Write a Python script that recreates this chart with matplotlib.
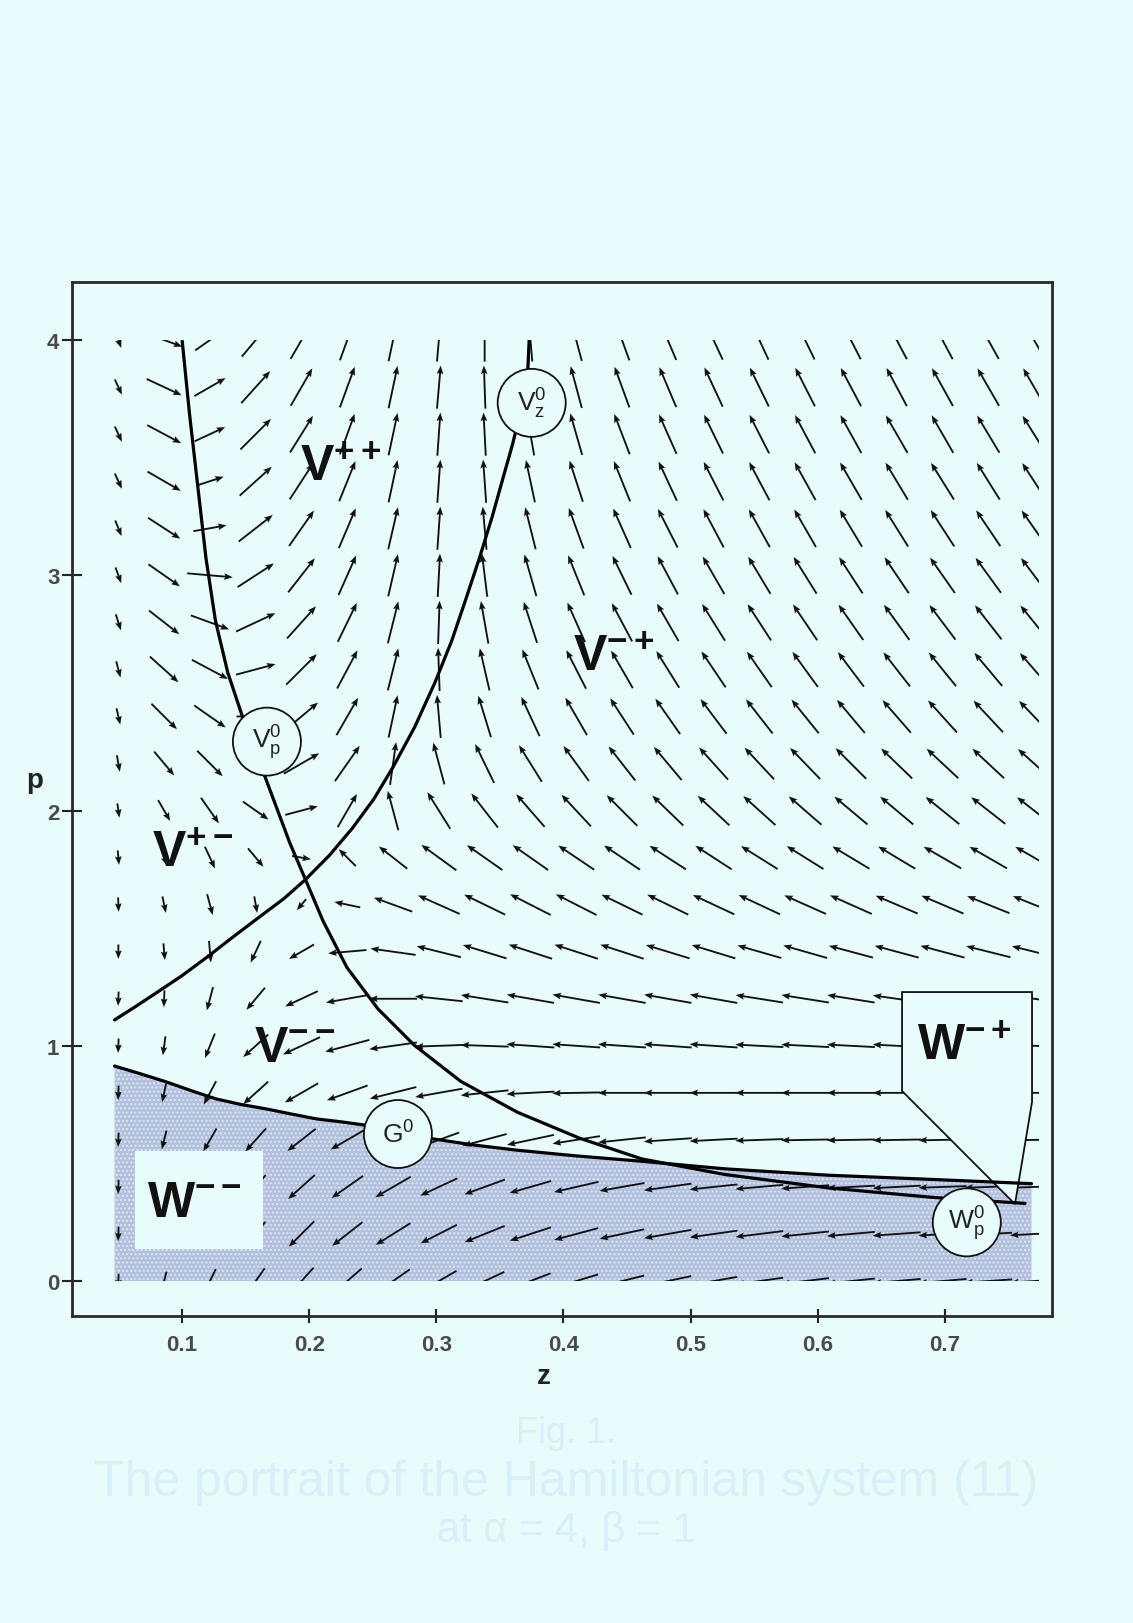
import numpy as np
import matplotlib
matplotlib.use('Agg')
import matplotlib.pyplot as plt
from matplotlib.patches import Rectangle, Polygon, Ellipse

plt.rcParams['font.family'] = ['Liberation Sans', 'DejaVu Sans']
plt.rcParams['mathtext.fontset'] = 'custom'
plt.rcParams['mathtext.rm'] = 'Liberation Sans'
plt.rcParams['mathtext.bf'] = 'Liberation Sans:bold'
plt.rcParams['mathtext.it'] = 'Liberation Sans:italic'
plt.rcParams['hatch.linewidth'] = 1.0

BG = '#e8fcfc'

# ---------------- data ----------------
z_cols = [0.050, 0.086, 0.122, 0.158, 0.194, 0.230, 0.266, 0.302, 0.338, 0.374, 0.410,
          0.446, 0.482, 0.518, 0.554, 0.590, 0.626, 0.662, 0.698, 0.734, 0.770]
p_rows = [4.0, 3.8, 3.6, 3.4, 3.2, 3.0, 2.8, 2.6, 2.4, 2.2, 2.0,
          1.8, 1.6, 1.4, 1.2, 1.0, 0.8, 0.6, 0.4, 0.2, 0.0]

# arrow directions (degrees) read from the field, one list per row (top to bottom)
angle_rows = [
    [290, 340, 35, 50, 60, 70, 78, 85, 90, 95, 105, 110, 113, 115, 115, 116, 117, 118, 118, 119, 120],
    [295, 335, 30, 48, 60, 70, 78, 85, 92, 98, 105, 110, 113, 115, 116, 117, 118, 118, 119, 120, 120],
    [295, 332, 25, 45, 58, 70, 78, 86, 93, 100, 106, 111, 114, 116, 117, 118, 119, 120, 120, 121, 122],
    [295, 330, 18, 42, 57, 68, 78, 86, 94, 102, 108, 112, 115, 117, 118, 119, 120, 121, 122, 122, 123],
    [292, 327, 10, 38, 55, 67, 77, 86, 95, 104, 110, 114, 117, 118, 119, 120, 121, 122, 123, 124, 125],
    [290, 325, 355, 33, 52, 66, 77, 87, 97, 106, 112, 116, 118, 120, 121, 122, 123, 124, 125, 126, 127],
    [288, 322, 340, 25, 48, 64, 76, 88, 100, 108, 114, 118, 120, 122, 123, 124, 125, 126, 127, 128, 129],
    [285, 318, 332, 15, 45, 62, 76, 92, 103, 112, 117, 120, 122, 124, 125, 126, 127, 128, 129, 130, 131],
    [283, 315, 325, 0, 40, 60, 78, 95, 107, 115, 120, 123, 125, 127, 128, 129, 130, 131, 132, 133, 134],
    [280, 310, 315, 340, 30, 55, 82, 105, 116, 122, 126, 128, 130, 132, 133, 134, 135, 136, 137, 137, 138],
    [278, 300, 305, 325, 15, 60, 105, 122, 128, 131, 133, 135, 136, 137, 138, 139, 140, 140, 141, 142, 142],
    [275, 290, 295, 310, 350, 135, 142, 144, 145, 145, 146, 146, 147, 147, 148, 148, 149, 149, 150, 150, 150],
    [272, 282, 285, 280, 230, 168, 160, 156, 154, 153, 153, 154, 154, 155, 155, 156, 156, 157, 157, 158, 158],
    [270, 275, 275, 245, 210, 185, 172, 166, 163, 162, 162, 162, 163, 163, 164, 164, 165, 165, 165, 166, 166],
    [268, 268, 255, 230, 205, 190, 180, 174, 171, 170, 170, 170, 170, 170, 171, 171, 171, 172, 172, 172, 172],
    [268, 262, 248, 222, 205, 195, 188, 182, 178, 176, 176, 176, 176, 176, 177, 177, 177, 177, 177, 178, 178],
    [268, 258, 242, 222, 210, 200, 194, 190, 186, 183, 181, 180, 180, 180, 180, 180, 180, 180, 180, 180, 180],
    [268, 256, 240, 228, 218, 210, 204, 200, 195, 192, 189, 186, 184, 183, 182, 181, 181, 181, 181, 181, 181],
    [268, 256, 240, 230, 222, 215, 210, 205, 200, 196, 193, 190, 188, 186, 185, 184, 183, 183, 182, 182, 182],
    [268, 256, 242, 232, 225, 218, 212, 207, 202, 198, 195, 192, 190, 188, 187, 186, 185, 184, 184, 183, 183],
    [268, 256, 244, 235, 228, 221, 215, 210, 205, 201, 197, 194, 192, 190, 188, 187, 186, 185, 185, 184, 184],
]

# relative arrow lengths, one list per row (top to bottom)
length_rows = [
    [0.35, 0.80, 0.75, 0.90, 0.90, 0.90, 0.90, 0.90, 0.90, 0.90, 0.90, 0.90, 0.90, 0.90, 0.90, 0.90, 0.90, 0.90, 0.90, 0.90, 0.90],
    [0.35, 0.80, 0.75, 0.90, 0.90, 0.90, 0.90, 0.90, 0.90, 0.90, 0.90, 0.90, 0.90, 0.90, 0.90, 0.90, 0.90, 0.90, 0.90, 0.90, 0.90],
    [0.35, 0.80, 0.70, 0.90, 0.90, 0.90, 0.90, 0.90, 0.90, 0.90, 0.90, 0.90, 0.90, 0.90, 0.90, 0.90, 0.90, 0.90, 0.90, 0.90, 0.90],
    [0.35, 0.80, 0.60, 0.90, 0.90, 0.90, 0.90, 0.90, 0.90, 0.90, 0.90, 0.90, 0.90, 0.90, 0.90, 0.90, 0.90, 0.90, 0.90, 0.90, 0.90],
    [0.35, 0.80, 0.70, 0.90, 0.90, 0.90, 0.90, 0.90, 0.90, 0.90, 0.90, 0.90, 0.90, 0.90, 0.90, 0.90, 0.90, 0.90, 0.90, 0.90, 0.90],
    [0.35, 0.80, 0.95, 0.90, 0.90, 0.90, 0.90, 0.90, 0.90, 0.90, 0.90, 0.90, 0.90, 0.90, 0.90, 0.90, 0.90, 0.90, 0.90, 0.90, 0.90],
    [0.35, 0.80, 0.85, 0.90, 0.90, 0.90, 0.90, 0.90, 0.90, 0.90, 0.90, 0.90, 0.90, 0.90, 0.90, 0.90, 0.90, 0.90, 0.90, 0.90, 0.90],
    [0.35, 0.80, 0.85, 0.85, 0.90, 0.90, 0.90, 0.90, 0.90, 0.90, 0.90, 0.90, 0.90, 0.90, 0.90, 0.90, 0.90, 0.90, 0.90, 0.90, 0.90],
    [0.35, 0.75, 0.80, 0.80, 0.90, 0.90, 0.90, 0.90, 0.90, 0.90, 0.90, 0.90, 0.90, 0.90, 0.90, 0.90, 0.90, 0.90, 0.90, 0.90, 0.90],
    [0.35, 0.65, 0.75, 0.75, 0.85, 0.90, 0.90, 0.90, 0.90, 0.90, 0.90, 0.90, 0.90, 0.90, 0.90, 0.90, 0.90, 0.90, 0.90, 0.90, 0.90],
    [0.30, 0.50, 0.65, 0.65, 0.70, 0.80, 0.85, 0.90, 0.90, 0.90, 0.90, 0.90, 0.90, 0.90, 0.90, 0.90, 0.90, 0.90, 0.90, 0.90, 0.90],
    [0.30, 0.35, 0.50, 0.50, 0.40, 0.50, 0.75, 0.90, 0.90, 0.90, 0.90, 0.90, 0.90, 0.90, 0.90, 0.90, 0.90, 0.90, 0.90, 0.90, 0.90],
    [0.30, 0.35, 0.45, 0.35, 0.30, 0.55, 0.85, 0.95, 0.95, 0.95, 0.95, 0.95, 0.95, 0.95, 0.95, 0.95, 0.95, 0.95, 0.95, 0.95, 0.95],
    [0.30, 0.35, 0.45, 0.50, 0.60, 0.80, 0.95, 0.95, 0.95, 0.95, 0.95, 0.95, 0.95, 0.95, 0.95, 0.95, 0.95, 0.95, 0.95, 0.95, 0.95],
    [0.30, 0.35, 0.50, 0.60, 0.75, 0.90, 1.00, 1.00, 1.00, 1.00, 1.00, 1.00, 1.00, 1.00, 1.00, 1.00, 1.00, 1.00, 1.00, 1.00, 1.00],
    [0.30, 0.40, 0.55, 0.70, 0.85, 0.95, 1.00, 1.00, 1.00, 1.00, 1.00, 1.00, 1.00, 1.00, 1.00, 1.00, 1.00, 1.00, 1.00, 1.00, 1.00],
    [0.30, 0.40, 0.55, 0.70, 0.80, 0.90, 1.00, 1.00, 1.00, 1.00, 1.00, 1.00, 1.00, 1.00, 1.00, 1.00, 1.00, 1.00, 1.00, 1.00, 1.00],
    [0.30, 0.40, 0.55, 0.65, 0.75, 0.80, 0.85, 0.90, 0.95, 1.00, 1.00, 1.00, 1.00, 1.00, 1.00, 1.00, 1.00, 1.00, 1.00, 1.00, 1.00],
    [0.30, 0.40, 0.55, 0.65, 0.75, 0.80, 0.85, 0.85, 0.90, 0.90, 0.95, 0.95, 1.00, 1.00, 1.00, 1.00, 1.00, 1.00, 1.00, 1.00, 1.00],
    [0.30, 0.40, 0.55, 0.65, 0.75, 0.80, 0.85, 0.85, 0.90, 0.90, 0.95, 0.95, 1.00, 1.00, 1.00, 1.00, 1.00, 1.00, 1.00, 1.00, 1.00],
    [0.30, 0.40, 0.55, 0.65, 0.75, 0.80, 0.85, 0.85, 0.90, 0.90, 0.95, 0.95, 1.00, 1.00, 1.00, 1.00, 1.00, 1.00, 1.00, 1.00, 1.00],
]

# nullcline curves (z, p)
vp0_z = [0.1002, 0.1059, 0.1124, 0.1189, 0.1263, 0.1360, 0.1482, 0.1605, 0.1727, 0.1849,
         0.1971, 0.2109, 0.2297, 0.2541, 0.2826, 0.3192, 0.3640, 0.4128, 0.4617, 0.5268,
         0.6082, 0.6896, 0.7629]
vp0_p = [3.996, 3.688, 3.380, 3.072, 2.808, 2.587, 2.389, 2.213, 2.037, 1.861,
         1.707, 1.531, 1.333, 1.157, 1.003, 0.849, 0.717, 0.607, 0.519, 0.453,
         0.396, 0.356, 0.330]

vz0_z = [0.047, 0.063, 0.079, 0.100, 0.120, 0.140, 0.161, 0.180, 0.197, 0.216, 0.234,
         0.251, 0.266, 0.283, 0.299, 0.312, 0.323, 0.334, 0.344, 0.352, 0.360, 0.365,
         0.369, 0.372, 0.373]
vz0_p = [1.110, 1.165, 1.222, 1.298, 1.378, 1.462, 1.548, 1.625, 1.706, 1.810, 1.925,
         2.050, 2.185, 2.355, 2.545, 2.720, 2.895, 3.075, 3.250, 3.405, 3.558, 3.670,
         3.770, 3.880, 4.000]

g0_z = [0.047, 0.068, 0.088, 0.108, 0.127, 0.147, 0.167, 0.186, 0.206, 0.225, 0.245,
        0.270, 0.299, 0.330, 0.364, 0.410, 0.462, 0.527, 0.608, 0.690, 0.768]
g0_p = [0.914, 0.880, 0.846, 0.808, 0.774, 0.750, 0.731, 0.710, 0.689, 0.677, 0.662,
        0.632, 0.603, 0.578, 0.556, 0.532, 0.509, 0.477, 0.450, 0.432, 0.414]

x_ticks = [0.1, 0.2, 0.3, 0.4, 0.5, 0.6, 0.7]
y_ticks = [0, 1, 2, 3, 4]

# ---------------- figure ----------------
fig = plt.figure(figsize=(11.33, 16.24), dpi=100, facecolor=BG)
ax = fig.add_axes([0.0635, 0.1890, 0.8650, 0.6367], facecolor=BG)
ax.set_xlim(0.0135, 0.7841)
ax.set_ylim(-0.1488, 4.2465)

clip = Rectangle((0.046, 0.0), 0.728, 4.0, transform=ax.transData,
                 facecolor='none', edgecolor='none')

# shaded W region
shade_z = [g0_z[0]] + g0_z + [g0_z[-1]]
shade_p = [0.0] + g0_p + [0.0]
ax.fill(shade_z, shade_p, facecolor='#b3c1de', edgecolor='#dce7f5',
        hatch='....', linewidth=0, zorder=1)

# vector field
Z, P = np.meshgrid(z_cols, p_rows)
A = np.deg2rad(np.array(angle_rows, dtype=float))
L = np.array(length_rows, dtype=float)
U = L * np.cos(A)
V = L * np.sin(A)
q = ax.quiver(Z, P, U, V, angles='uv', scale_units='inches', scale=1 / 0.48,
              pivot='mid', width=0.0019, headwidth=3.6, headlength=4.6,
              headaxislength=4.0, color='#111111', zorder=2)
q.set_clip_path(clip)

# W-- label box
ax.add_patch(Rectangle((0.063, 0.136), 0.1007, 0.417, facecolor=BG,
                       edgecolor='none', zorder=3))
# W-+ call-out
ax.add_patch(Polygon([(0.6662, 1.2285), (0.7684, 1.2285), (0.7684, 0.761),
                      (0.755, 0.327), (0.6662, 0.808)], closed=True,
                     facecolor=BG, edgecolor='#111111', linewidth=1.3, zorder=3))

# curves
for zz, pp in [(vp0_z, vp0_p), (vz0_z, vz0_p), (g0_z, g0_p)]:
    ln, = ax.plot(zz, pp, color='#000000', linewidth=2.3, zorder=4,
                  solid_capstyle='round', solid_joinstyle='round')
    ln.set_clip_path(clip)

# circles with labels
circ_w, circ_h = 0.0535, 0.289
circles = [((0.375, 3.733), r'$\mathrm{V}^{0}_{\mathrm{z}}$'),
           ((0.1668, 2.293), r'$\mathrm{V}^{0}_{\mathrm{p}}$'),
           ((0.2698, 0.625), r'$\mathrm{G}^{0}$'),
           ((0.7171, 0.2495), r'$\mathrm{W}^{0}_{\mathrm{p}}$')]
for (cz, cp), lab in circles:
    ax.add_patch(Ellipse((cz, cp), circ_w, circ_h, facecolor=BG,
                         edgecolor='#111111', linewidth=1.3, zorder=5))
    ax.text(cz, cp, lab, ha='center', va='center', fontsize=19,
            color='#222222', zorder=6)

# region labels
region_labels = [((0.1928, 3.403), r'$\mathbf{V^{++}}$'),
                 ((0.4072, 2.597), r'$\mathbf{V^{-+}}$'),
                 ((0.0764, 1.761), r'$\mathbf{V^{+-}}$'),
                 ((0.1564, 0.937), r'$\mathbf{V^{--}}$'),
                 ((0.0722, 0.276), r'$\mathbf{W^{--}}$'),
                 ((0.6777, 0.944), r'$\mathbf{W^{-+}}$')]
for (lz, lp), lab in region_labels:
    ax.text(lz, lp, lab, ha='left', va='baseline', fontsize=36,
            color='#111111', zorder=6)

# axes styling
for s in ax.spines.values():
    s.set_color('#2a2a2a')
    s.set_linewidth(2.0)
ax.set_xticks(x_ticks)
ax.set_xticklabels(['0.1', '0.2', '0.3', '0.4', '0.5', '0.6', '0.7'])
ax.set_yticks(y_ticks)
ax.set_yticklabels(['0', '1', '2', '3', '4'])
ax.tick_params(axis='x', direction='inout', length=10, width=1.5, color='#222222',
               labelsize=16, labelcolor='#4a4a4a', pad=8)
ax.tick_params(axis='y', direction='inout', length=14, width=1.5, color='#222222',
               labelsize=16, labelcolor='#4a4a4a', pad=2)
for t in ax.get_xticklabels() + ax.get_yticklabels():
    t.set_fontweight('bold')

fig.text(35 / 1133, 1 - 781 / 1624, 'p', ha='center', va='center', fontsize=20,
         fontweight='bold', color='#222222')
fig.text(544 / 1133, 1 - 1377 / 1624, 'z', ha='center', va='center', fontsize=20,
         fontweight='bold', color='#222222')

# faint caption
cap_col = '#d9f0f8'
cap_font = ['Liberation Sans Narrow', 'Liberation Sans', 'DejaVu Sans']
fig.text(0.5, 1 - 1434 / 1624, 'Fig. 1.', ha='center', va='center', fontsize=26,
         color=cap_col, family=cap_font)
fig.text(0.5, 1 - 1483 / 1624, 'The portrait of the Hamiltonian system (11)',
         ha='center', va='center', fontsize=36, color=cap_col, family=cap_font)
fig.text(0.5, 1 - 1531 / 1624, 'at α = 4, β = 1', ha='center', va='center',
         fontsize=30, color=cap_col, family=cap_font)

fig.savefig('out.png', dpi=100, facecolor=BG)
